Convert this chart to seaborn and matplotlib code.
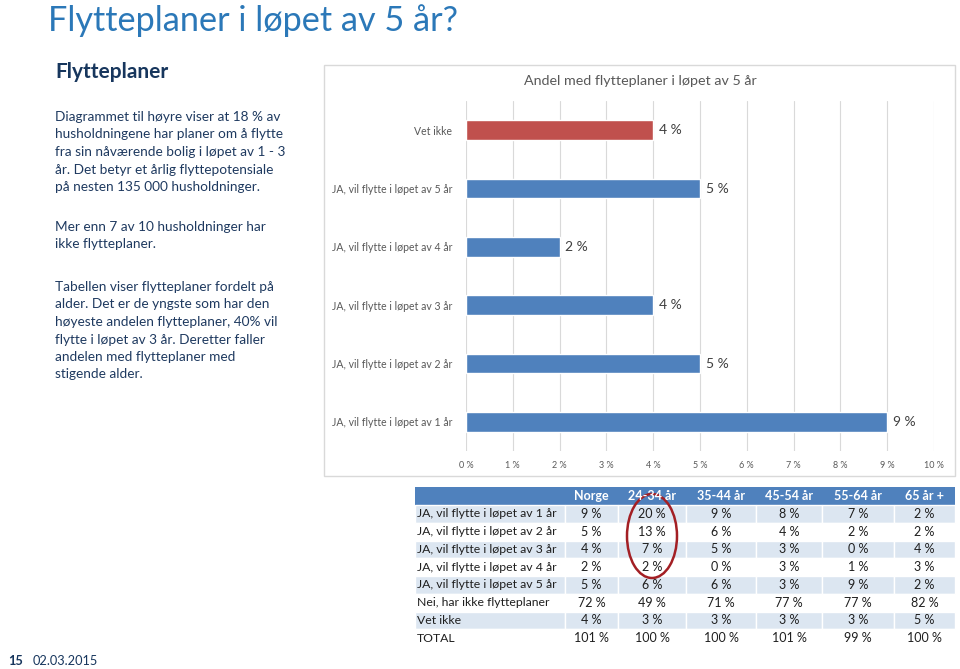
import matplotlib
matplotlib.use("Agg")
import matplotlib.pyplot as plt
from matplotlib.patches import Rectangle, Ellipse
import seaborn as sns
import pandas as pd

# bar chart data
categories = [
    "Vet ikke",
    "JA, vil flytte i løpet av 5 år",
    "JA, vil flytte i løpet av 4 år",
    "JA, vil flytte i løpet av 3 år",
    "JA, vil flytte i løpet av 2 år",
    "JA, vil flytte i løpet av 1 år",
]
shares = [4, 5, 2, 4, 5, 9]
bar_colors = ["#C0504D", "#4F81BD", "#4F81BD", "#4F81BD", "#4F81BD", "#4F81BD"]
x_ticks = [0, 1, 2, 3, 4, 5, 6, 7, 8, 9, 10]

# table data
table_rows = [
    "JA, vil flytte i løpet av 1 år",
    "JA, vil flytte i løpet av 2 år",
    "JA, vil flytte i løpet av 3 år",
    "JA, vil flytte i løpet av 4 år",
    "JA, vil flytte i løpet av 5 år",
    "Nei, har ikke flytteplaner",
    "Vet ikke",
    "TOTAL",
]
table_cols = ["Norge", "24-34 år", "35-44 år", "45-54 år", "55-64 år", "65 år +"]
norge = [9, 5, 4, 2, 5, 72, 4, 101]
age_24_34 = [20, 13, 7, 2, 6, 49, 3, 100]
age_35_44 = [9, 6, 5, 0, 6, 71, 3, 100]
age_45_54 = [8, 4, 3, 3, 3, 77, 3, 101]
age_55_64 = [7, 2, 0, 1, 9, 77, 3, 99]
age_65_plus = [2, 2, 4, 3, 2, 82, 5, 100]

title = "Flytteplaner i løpet av 5 år?"
chart_title = "Andel med flytteplaner i løpet av 5 år"
heading = "Flytteplaner"
para1 = ["Diagrammet til høyre viser at 18 % av",
         "husholdningene har planer om å flytte",
         "fra sin nåværende bolig i løpet av 1 - 3",
         "år. Det betyr et årlig flyttepotensiale",
         "på nesten 135 000 husholdninger."]
para2 = ["Mer enn 7 av 10 husholdninger har",
         "ikke flytteplaner."]
para3 = ["Tabellen viser flytteplaner fordelt på",
         "alder. Det er de yngste som har den",
         "høyeste andelen flytteplaner, 40% vil",
         "flytte i løpet av 3 år. Deretter faller",
         "andelen med flytteplaner med",
         "stigende alder."]

sns.set_style("white")
plt.rcParams["font.family"] = ["Lato", "DejaVu Sans"]

W, H = 960, 669
fig = plt.figure(figsize=(9.6, 6.69), dpi=100)

# background layer in pixel coordinates
bg = fig.add_axes([0, 0, 1, 1])
bg.set_xlim(0, W)
bg.set_ylim(H, 0)
bg.axis("off")

bg.text(48, 21, title, fontsize=24.7, color="#2B78B8", va="center", ha="left")
bg.text(55, 72, heading, fontsize=15, fontweight="bold", color="#17365D", va="center")
body_color = "#1F3A60"
for start, lines in [(117, para1), (227, para2), (287, para3)]:
    for i, line in enumerate(lines):
        bg.text(55, start + i * 17.5, line, fontsize=9.8, color=body_color, va="center")

bg.text(8, 661, "15", fontsize=9.2, fontweight="bold", color="#17365D", va="center")
bg.text(33, 661, "02.03.2015", fontsize=9.2, color="#17365D", va="center")

# chart frame and title
bg.add_patch(Rectangle((324, 65), 631, 411, fill=False, edgecolor="#D9D9D9", lw=1))
bg.text(640, 81, chart_title, fontsize=10.3, color="#595959", ha="center", va="center")

# table
col_edges = [415, 565, 618, 686, 756, 822, 894, 955]
head_top, head_h, row_h = 487, 18, 17.75
bg.add_patch(Rectangle((col_edges[0], head_top), col_edges[-1] - col_edges[0], head_h,
                       facecolor="#4F81BD", edgecolor="none"))
for j, name in enumerate(table_cols):
    cx = (col_edges[j + 1] + col_edges[j + 2]) / 2
    bg.text(cx, head_top + head_h / 2, name, fontsize=9, fontweight="bold",
            color="white", ha="center", va="center")
columns = [norge, age_24_34, age_35_44, age_45_54, age_55_64, age_65_plus]
for i, label in enumerate(table_rows):
    y0 = head_top + head_h + i * row_h
    fc = "#DCE6F1" if i % 2 == 0 else "white"
    for j in range(len(col_edges) - 1):
        bg.add_patch(Rectangle((col_edges[j], y0), col_edges[j + 1] - col_edges[j], row_h,
                               facecolor=fc, edgecolor="white", lw=1))
    bg.text(col_edges[0] + 2, y0 + row_h / 2, label, fontsize=8.8, color="#1F1F1F", va="center")
    for j, col in enumerate(columns):
        cx = (col_edges[j + 1] + col_edges[j + 2]) / 2
        bg.text(cx, y0 + row_h / 2, f"{col[i]} %", fontsize=9, color="#1F1F1F",
                ha="center", va="center")
bg.add_patch(Ellipse((652, 536), 50, 84, fill=False, edgecolor="#A31F24", lw=1.8))

# bar chart
df = pd.DataFrame({"category": categories, "share": shares})
ax = fig.add_axes([466 / W, 1 - 451 / H, 468 / W, 350 / H])
ax.set_facecolor("none")
sns.barplot(data=df, x="share", y="category", hue="category", palette=bar_colors,
            legend=False, width=0.34, orient="h", ax=ax, saturation=1)
for c in ax.containers:
    ax.bar_label(c, fmt="%g %%", padding=4, fontsize=10, color="#404040")
ax.set_xlim(0, 10)
ax.set_xticks(x_ticks)
ax.set_xticklabels([f"{t} %" for t in x_ticks])
ax.grid(axis="x", color="#D9D9D9", lw=0.8)
ax.set_axisbelow(True)
for s in ax.spines.values():
    s.set_visible(False)
ax.tick_params(axis="y", labelsize=7.6, colors="#595959", length=0, pad=10)
ax.tick_params(axis="x", labelsize=6.5, colors="#595959", length=0, pad=7)
ax.set_xlabel("")
ax.set_ylabel("")

fig.savefig("out.png", dpi=100, facecolor="white")
